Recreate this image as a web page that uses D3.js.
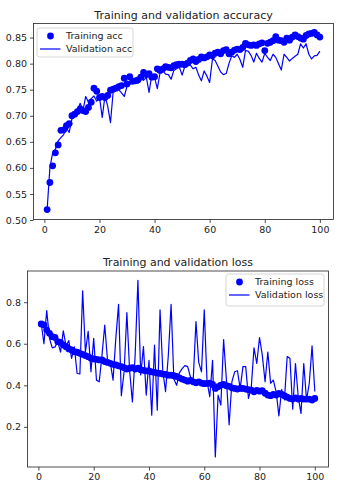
<!DOCTYPE html>
<html><head><meta charset="utf-8">
<script src="https://cdn.jsdelivr.net/npm/d3@7"></script>
<style>
body{margin:0;background:#fff;}
svg text{font-family:"DejaVu Sans",sans-serif;fill:#222;}
</style></head>
<body><svg id="c" width="349" height="490"></svg>
<script>
const epochs = d3.range(1, 101);
const trainAcc = [0.520,0.572,0.604,0.629,0.644,0.672,0.673,0.681,0.685,0.700,
0.703,0.708,0.713,0.710,0.708,0.716,0.726,0.753,0.747,0.735,
0.737,0.735,0.739,0.749,0.751,0.753,0.756,0.758,0.772,0.761,
0.775,0.766,0.767,0.769,0.774,0.783,0.779,0.781,0.774,0.775,
0.790,0.787,0.790,0.794,0.793,0.792,0.796,0.798,0.799,0.799,
0.798,0.801,0.806,0.809,0.804,0.808,0.813,0.811,0.813,0.817,
0.815,0.820,0.822,0.819,0.825,0.827,0.819,0.822,0.826,0.828,
0.827,0.831,0.839,0.836,0.835,0.836,0.835,0.838,0.840,0.825,
0.839,0.841,0.844,0.852,0.845,0.844,0.841,0.849,0.845,0.851,
0.855,0.852,0.849,0.847,0.854,0.857,0.858,0.860,0.855,0.851];
const valAcc = [0.520,0.600,0.629,0.636,0.652,0.658,0.664,0.677,0.668,0.694,
0.703,0.710,0.724,0.710,0.737,0.726,0.733,0.738,0.728,0.736,
0.697,0.738,0.718,0.687,0.748,0.752,0.750,0.744,0.737,0.757,
0.760,0.765,0.770,0.762,0.775,0.768,0.774,0.745,0.779,0.773,
0.752,0.783,0.786,0.780,0.779,0.770,0.787,0.790,0.793,0.778,
0.795,0.803,0.797,0.790,0.793,0.778,0.767,0.786,0.776,0.764,
0.809,0.806,0.795,0.784,0.779,0.781,0.800,0.815,0.812,0.818,
0.808,0.793,0.825,0.824,0.816,0.803,0.820,0.810,0.803,0.820,
0.812,0.806,0.818,0.812,0.800,0.788,0.818,0.812,0.805,0.810,
0.814,0.818,0.838,0.830,0.838,0.818,0.809,0.815,0.816,0.824];
const trainLoss = [0.695,0.691,0.667,0.650,0.634,0.630,0.610,0.607,0.594,0.586,
0.575,0.570,0.562,0.559,0.554,0.549,0.543,0.538,0.530,0.527,
0.525,0.522,0.522,0.514,0.510,0.506,0.501,0.498,0.494,0.490,
0.485,0.478,0.482,0.485,0.478,0.482,0.475,0.472,0.469,0.469,
0.465,0.462,0.459,0.457,0.454,0.453,0.449,0.449,0.446,0.443,
0.436,0.430,0.425,0.420,0.424,0.417,0.412,0.417,0.411,0.408,
0.409,0.411,0.404,0.385,0.393,0.401,0.404,0.398,0.395,0.388,
0.385,0.382,0.385,0.385,0.382,0.379,0.377,0.369,0.375,0.372,
0.374,0.362,0.353,0.350,0.356,0.353,0.361,0.356,0.350,0.343,
0.337,0.334,0.340,0.334,0.337,0.334,0.334,0.334,0.329,0.337];
const valLoss = [0.700,0.600,0.760,0.626,0.580,0.585,0.610,0.560,0.662,0.590,
0.615,0.530,0.585,0.457,0.455,0.855,0.560,0.660,0.465,0.626,
0.425,0.417,0.545,0.690,0.520,0.510,0.425,0.626,0.790,0.350,
0.465,0.750,0.470,0.320,0.545,0.905,0.450,0.586,0.353,0.520,
0.256,0.594,0.280,0.763,0.470,0.370,0.545,0.790,0.430,0.400,
0.460,0.480,0.495,0.490,0.440,0.425,0.707,0.510,0.465,0.763,
0.420,0.345,0.520,0.055,0.353,0.305,0.620,0.430,0.210,0.417,
0.465,0.470,0.385,0.490,0.490,0.337,0.390,0.580,0.505,0.630,
0.545,0.417,0.560,0.410,0.425,0.370,0.253,0.380,0.330,0.538,
0.530,0.285,0.505,0.345,0.265,0.505,0.330,0.410,0.590,0.370];
const xTicks = [0,20,40,60,80,100];
const accTicks = [0.50,0.55,0.60,0.65,0.70,0.75,0.80,0.85];
const lossTicks = [0.2,0.4,0.6,0.8];
const titles = ["Training and validation accuracy","Training and validation loss"];
const legendAcc = ["Training acc","Validation acc"];
const legendLoss = ["Training loss","Validation loss"];

const svg = d3.select("#c");
const BLUE = "#0000ff";

function panel(cfg){
  const {l,r,t,b,ydom,yt,yfmt,tr,va,title,leg,legPos} = cfg;
  const x = d3.scaleLinear().domain([-3.95,104.95]).range([l,r]);
  const y = d3.scaleLinear().domain(ydom).range([b,t]);
  const g = svg.append("g");
  const xa = g.append("g").attr("transform",`translate(0,${b})`)
    .call(d3.axisBottom(x).tickValues(xTicks).tickSize(3.5).tickPadding(3).tickFormat(d3.format("d")));
  const ya = g.append("g").attr("transform",`translate(${l},0)`)
    .call(d3.axisLeft(y).tickValues(yt).tickSize(3.5).tickPadding(3).tickFormat(d3.format(yfmt)));
  [xa,ya].forEach(a=>{
    a.select(".domain").remove();
    a.selectAll("line").attr("stroke","#222").attr("stroke-width",0.8);
    a.selectAll("text").style("font-size","9.5px").style("font-family","DejaVu Sans");
  });
  const id = "clip"+Math.round(t);
  svg.append("clipPath").attr("id",id).append("rect").attr("x",l).attr("y",t).attr("width",r-l).attr("height",b-t);
  const pg = g.append("g").attr("clip-path",`url(#${id})`);
  pg.selectAll("circle").data(epochs).join("circle")
    .attr("cx",d=>x(d)).attr("cy",(d,i)=>y(tr[i])).attr("r",3.4).attr("fill",BLUE);
  pg.append("path").datum(epochs)
    .attr("d",d3.line().x(d=>x(d)).y((d,i)=>y(va[i])))
    .attr("fill","none").attr("stroke",BLUE).attr("stroke-width",1.2).attr("stroke-linejoin","round");
  g.append("rect").attr("x",l).attr("y",t).attr("width",r-l).attr("height",b-t)
    .attr("fill","none").attr("stroke","#222").attr("stroke-width",0.8);
  g.append("text").attr("x",(l+r)/2).attr("y",t-5).attr("text-anchor","middle")
    .style("font-size","11px").text(title);
  const [lx,ly,lw,lh] = legPos;
  const lg = g.append("g").attr("transform",`translate(${lx},${ly})`);
  lg.append("rect").attr("width",lw).attr("height",lh).attr("rx",2.5)
    .attr("fill","#fff").attr("fill-opacity",0.85).attr("stroke","#ccc").attr("stroke-width",0.8);
  lg.append("circle").attr("cx",13.5).attr("cy",8).attr("r",3.4).attr("fill",BLUE);
  lg.append("line").attr("x1",3).attr("x2",23.5).attr("y1",21).attr("y2",21)
    .attr("stroke",BLUE).attr("stroke-width",1.2);
  lg.selectAll("text.lt").data(leg).join("text").attr("class","lt")
    .attr("x",29).attr("y",(d,i)=>11.3+i*13).style("font-size","9.5px").text(d=>d);
}

panel({l:33.5,r:333.5,t:23.5,b:219.5,ydom:[0.501,0.877],yt:accTicks,yfmt:".2f",
  tr:trainAcc,va:valAcc,title:titles[0],leg:legendAcc,legPos:[37,28,96,29]});
panel({l:27.5,r:328.5,t:271,b:467,ydom:[0.007,0.950],yt:lossTicks,yfmt:".1f",
  tr:trainLoss,va:valLoss,title:titles[1],leg:legendLoss,legPos:[226,274,98,32]});
</script></body></html>
